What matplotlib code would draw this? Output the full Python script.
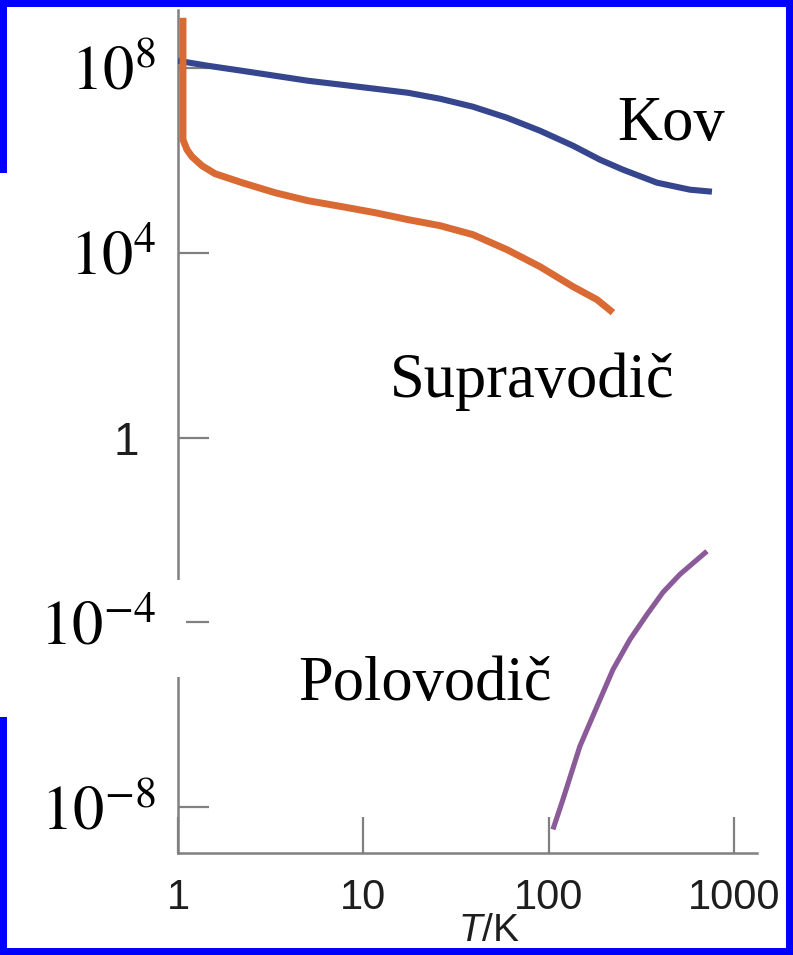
import numpy as np
import matplotlib
matplotlib.use("Agg")
import matplotlib.pyplot as plt
from matplotlib.patches import Rectangle
from matplotlib.transforms import ScaledTranslation

plt.rcParams['mathtext.fontset'] = 'custom'
plt.rcParams['mathtext.rm'] = 'Liberation Sans'
plt.rcParams['mathtext.it'] = 'Liberation Sans:italic'

# ---- data (resistivity as log10 values) ----
kov_T = [1.0, 1.452, 2.215, 3.339, 5.030, 7.675, 11.57, 17.43, 25.94, 39.09,
         59.64, 89.87, 135.4, 189.4, 252.1, 384.6, 579.7, 761.8]
kov_log = [8.151, 8.043, 7.935, 7.827, 7.719, 7.632, 7.546, 7.459, 7.330, 7.157,
           6.919, 6.638, 6.314, 6.011, 5.795, 5.514, 5.362, 5.319]

sup_T = [1.064, 1.064, 1.118, 1.190, 1.347, 1.584, 2.215, 3.339, 5.030, 7.675,
         11.57, 17.43, 25.94, 39.09, 59.64, 89.87, 135.4, 182.5, 222.6]
sup_log = [9.081, 6.443, 6.227, 6.076, 5.881, 5.708, 5.514, 5.297, 5.124, 4.995,
           4.865, 4.714, 4.584, 4.389, 4.065, 3.697, 3.265, 2.984, 2.703]

pol_T = [105.6, 119.6, 147.6, 182.5, 222.7, 274.9, 339.6, 414.4, 512, 716]
pol_log = [-8.48, -7.83, -6.68, -5.82, -5.02, -4.37, -3.83, -3.35, -2.96, -2.46]

x_ticks = [1, 10, 100, 1000]
x_tick_labels = ['1', '10', '100', '1000']
y_ticks = [1e8, 1e4, 1, 1e-4, 1e-8]
y_tick_labels = [r'$10^{8}$', r'$10^{4}$', '1', r'$10^{-4}$', r'$10^{-8}$']
x_label = r'$\mathit{T}$/K'
curve_names = ['Kov', 'Supravodič', 'Polovodič']

W, H = 793, 955
fig = plt.figure(figsize=(W / 100, H / 100), dpi=100)
fig.patch.set_facecolor('white')

ax = fig.add_axes([178 / W, (H - 853) / H, 579 / W, 843 / H])
ax.set_facecolor('none')
ax.set_xscale('log')
ax.set_yscale('log')
ax.set_xlim(1, 10 ** 3.125)
ax.set_ylim(10 ** -8.99, 10 ** 9.25)

line_kw = dict(solid_capstyle='butt', solid_joinstyle='round', zorder=3)
ax.plot(kov_T, 10 ** np.array(kov_log), color='#36468e', lw=4.4, **line_kw)
ax.plot(sup_T, 10 ** np.array(sup_log), color='#d96a33', lw=5.0,
        clip_on=False, **line_kw)
ax.plot(pol_T, 10 ** np.array(pol_log), color='#8a5a99', lw=3.7, **line_kw)

for s in ['top', 'right']:
    ax.spines[s].set_visible(False)
for s in ['left', 'bottom']:
    ax.spines[s].set_color('#808080')
    ax.spines[s].set_linewidth(1.8)

ax.minorticks_off()
ax.set_xticks(x_ticks)
ax.set_xticklabels(x_tick_labels)
ax.set_yticks(y_ticks)
ax.set_yticklabels(y_tick_labels)
ax.tick_params(axis='x', direction='in', length=26, width=1.6, color='#808080',
               pad=18, labelsize=30, labelcolor='#1e1e1e')
ax.tick_params(axis='y', direction='in', length=22, width=1.6, color='#808080',
               pad=16, labelsize=45, labelcolor='black')
for lab in ax.get_xticklabels():
    lab.set_fontfamily('Liberation Sans')
for lab in ax.get_yticklabels():
    if lab.get_text() == '1':
        lab.set_fontfamily('Liberation Sans')
        lab.set_fontsize(33)
        lab.set_color('#1e1e1e')
        lab.set_transform(lab.get_transform() +
                          ScaledTranslation(-17 / 100, 0, fig.dpi_scale_trans))
    else:
        lab.set_fontfamily('Liberation Serif')
        lab.set_math_fontfamily('stix')

ax.set_xlabel(x_label, fontsize=28, color='#1e1e1e', family='Liberation Sans')
ax.xaxis.set_label_coords(0.537, -0.071)

# white patch interrupting the y axis (as in the reference)
fig.patches.append(Rectangle((170 / W, (H - 677) / H), 16 / W, 97 / H,
                             transform=fig.transFigure, facecolor='white',
                             edgecolor='none', zorder=5))

# curve labels
txt_kw = dict(family='Liberation Serif', fontsize=45, color='black', zorder=6)
fig.text(617 / W, (H - 140) / H, curve_names[0], ha='left', va='baseline',
         bbox=dict(facecolor='white', edgecolor='none', pad=4), **txt_kw)
fig.text(390 / W, (H - 397) / H, curve_names[1], ha='left', va='baseline', **txt_kw)
fig.text(298 / W, (H - 700) / H, curve_names[2], ha='left', va='baseline', **txt_kw)

# blue frame
blue = '#0000ff'
for (x0, y0, w, h) in [(0, 0, 793, 7), (786, 0, 7, 955), (0, 948, 793, 7),
                       (0, 0, 7, 173), (0, 717, 7, 238)]:
    fig.patches.append(Rectangle((x0 / W, (H - y0 - h) / H), w / W, h / H,
                                 transform=fig.transFigure, facecolor=blue,
                                 edgecolor='none', zorder=10))

fig.savefig('out.png', dpi=100, facecolor='white')
